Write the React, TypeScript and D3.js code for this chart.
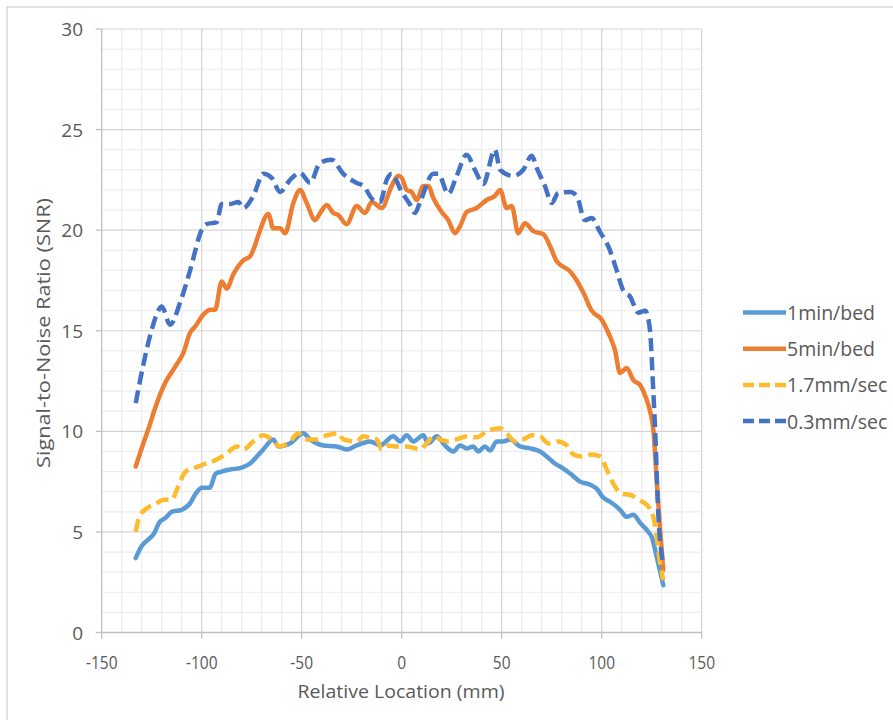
import * as d3 from 'd3';

// [relative location (mm), SNR]
const oneMinBed: [number, number][] = [
  [-133, 3.7], [-130, 4.3], [-127, 4.6], [-124, 4.9], [-121, 5.5], [-118, 5.7], [-115, 6.0], [-110, 6.1],
  [-106, 6.4], [-103, 6.9], [-100, 7.2], [-96, 7.2], [-93, 7.9], [-90, 8.0], [-85.8, 8.1], [-80, 8.2],
  [-75.8, 8.4], [-72, 8.8], [-69.2, 9.1], [-64.2, 9.6], [-61.7, 9.25], [-55.8, 9.4], [-49.2, 9.9],
  [-45.8, 9.6], [-39.2, 9.3], [-32.5, 9.25], [-27.5, 9.1], [-22.5, 9.3], [-15.8, 9.5], [-10.8, 9.3],
  [-4.2, 9.75], [-0.8, 9.5], [2.5, 9.8], [5.8, 9.5], [10.8, 9.8], [13.3, 9.4], [17.5, 9.75], [21.6, 9.3],
  [25.8, 9.0], [29.2, 9.3], [32.5, 9.15], [35.8, 9.25], [38.3, 9.0], [41.6, 9.25], [44.2, 9.05],
  [47.5, 9.5], [50.8, 9.5], [54.2, 9.6], [59.2, 9.25], [64.2, 9.15], [69.2, 9.0], [72.5, 8.75],
  [76.6, 8.4], [80.8, 8.15], [84.2, 7.9], [89.2, 7.5], [94.2, 7.35], [97.5, 7.15], [100.8, 6.7],
  [104.2, 6.5], [109.2, 6.1], [112.5, 5.75], [115.8, 5.85], [119.2, 5.45], [123.3, 5.0], [125, 4.75],
  [127.5, 3.75], [130.8, 2.35],
];

const fiveMinBed: [number, number][] = [
  [-133, 8.25], [-129.2, 9.4], [-126.7, 10.1], [-123.3, 11.15], [-118.3, 12.4], [-113.3, 13.2],
  [-109.2, 13.9], [-105.8, 14.9], [-103.3, 15.2], [-99.2, 15.8], [-95.8, 16.05], [-93.3, 16.05],
  [-90, 17.45], [-87.5, 17.1], [-84.2, 17.8], [-79.2, 18.5], [-75.8, 18.7], [-72.5, 19.5], [-70.8, 20.0],
  [-66.7, 20.8], [-64.2, 20.1], [-60.8, 20.1], [-58.3, 19.85], [-54.2, 21.35], [-50.8, 22.0],
  [-47.5, 21.35], [-43.3, 20.5], [-40.8, 20.85], [-37.5, 21.25], [-34.2, 20.85], [-31.7, 20.75],
  [-27.5, 20.3], [-22.5, 21.2], [-18.3, 20.85], [-15, 21.4], [-10, 21.1], [-5, 22.2], [-1.7, 22.7],
  [0, 22.6], [2.5, 22.0], [5, 21.9], [7.5, 21.5], [10.8, 22.2], [13.3, 22.2], [15.8, 21.6], [20, 20.9],
  [23.3, 20.5], [26.6, 19.85], [29.2, 20.2], [32.5, 20.9], [37.5, 21.1], [42.5, 21.5], [46.6, 21.7],
  [49.2, 22.0], [52.5, 21.1], [55, 21.2], [58.3, 19.85], [61.6, 20.35], [65.8, 19.95], [70.8, 19.8],
  [74.2, 19.2], [77.5, 18.45], [84.2, 17.95], [87.5, 17.5], [90.8, 16.9], [95, 16.0], [100, 15.55],
  [103.3, 14.9], [106.6, 14.05], [109.2, 12.9], [112.5, 13.15], [115.8, 12.55], [119.2, 12.3],
  [122, 11.7], [124.2, 11.0], [125.8, 10.1], [127.5, 7.6], [129.2, 5.1], [130.8, 3.1],
];

const mm17Sec: [number, number][] = [
  [-133, 5.0], [-131, 5.8], [-127, 6.2], [-123, 6.4], [-119, 6.6], [-115, 6.6], [-112, 7.2], [-108, 8.0],
  [-104.2, 8.15], [-99.2, 8.35], [-92.5, 8.6], [-87.5, 8.9], [-82.5, 9.25], [-79.2, 9.1], [-74.2, 9.5],
  [-69.2, 9.8], [-65, 9.6], [-60.8, 9.25], [-55.8, 9.5], [-51.7, 9.9], [-47.5, 9.6], [-42.5, 9.6],
  [-37.5, 9.8], [-31.7, 9.9], [-29.2, 9.6], [-22.5, 9.5], [-19.2, 9.75], [-15.8, 9.65], [-12.5, 9.6],
  [-10, 9.1], [-7.5, 9.3], [-2.5, 9.25], [2.5, 9.25], [9.2, 9.1], [12.5, 9.4], [15.8, 9.75], [19.2, 9.6],
  [23.3, 9.5], [27.5, 9.6], [32.5, 9.75], [37.5, 9.7], [42.5, 10.0], [49.2, 10.15], [52.5, 9.9],
  [56.6, 9.5], [60.8, 9.6], [65, 9.8], [69.2, 9.75], [73.3, 9.4], [78.3, 9.5], [82.5, 9.3], [85.8, 8.85],
  [90, 8.75], [95, 8.85], [99.2, 8.75], [102.5, 8.1], [105.8, 7.4], [110, 6.9], [114.2, 6.85],
  [118.3, 6.6], [122.5, 6.35], [125.8, 5.75], [127.5, 4.75], [129.2, 3.45], [130.8, 2.6],
];

const mm03Sec: [number, number][] = [
  [-133, 11.4], [-129, 13.4], [-125, 15.05], [-121.7, 16.0], [-120, 16.2], [-115.8, 15.3], [-110.8, 16.4],
  [-105.8, 18.0], [-100, 20.0], [-97.5, 20.3], [-92.5, 20.4], [-90, 21.3], [-85.8, 21.3], [-81.7, 21.4],
  [-79.2, 21.1], [-74.2, 21.7], [-69.2, 22.8], [-65, 22.6], [-60.8, 21.9], [-55.8, 22.5], [-50.8, 22.85],
  [-45.8, 22.35], [-40.8, 23.35], [-35, 23.5], [-29.2, 22.8], [-22.5, 22.35], [-19.2, 22.2],
  [-14.2, 21.5], [-10.8, 21.4], [-7.5, 22.5], [-5, 22.8], [0, 21.9], [4, 21.3], [6.6, 20.85], [9.2, 21.4],
  [15.8, 22.8], [18.3, 22.8], [23.3, 21.8], [27.5, 22.7], [32.5, 23.75], [36.6, 23.0], [40.8, 22.3],
  [46.6, 24.0], [49.2, 23.0], [55.8, 22.7], [60.8, 23.0], [65, 23.7], [67.5, 23.1], [71.6, 22.2],
  [75, 21.35], [78.3, 21.85], [84.2, 21.9], [87.5, 21.7], [91.6, 20.5], [95, 20.6], [99.2, 19.9],
  [103.3, 19.2], [107.5, 18.0], [110.8, 17.0], [114.2, 16.7], [118.3, 15.9], [121.7, 16.0],
  [123.3, 15.6], [124.5, 14.6], [125.5, 12.6], [126.7, 10.1], [128.3, 5.9], [130.8, 3.4],
];

const seriesNames = ['1min/bed', '5min/bed', '1.7mm/sec', '0.3mm/sec'];
const seriesData = [oneMinBed, fiveMinBed, mm17Sec, mm03Sec];
const seriesColors = ['#5B9BD5', '#ED7D31', '#FDBB2D', '#4472C4'];
const seriesDashed = [false, false, true, true];

const xTicks = [-150, -100, -50, 0, 50, 100, 150];
const yTicks = [0, 5, 10, 15, 20, 25, 30];

const W = 893;
const H = 720;
const textColor = '#595959';
const font = '"Open Sans", "DejaVu Sans", sans-serif';

export default function App() {
  const x = d3.scaleLinear().domain([-150, 150]).range([101.7, 701.7]);
  const y = d3.scaleLinear().domain([0, 30]).range([632.5, 29]);

  const line = d3.line<[number, number]>()
    .x((d) => x(d[0]))
    .y((d) => y(d[1]))
    .curve(d3.curveMonotoneX);

  const minorX = d3.range(-140, 151, 10).filter((v) => v % 50 !== 0);
  const minorY = d3.range(1, 30, 1).filter((v) => v % 5 !== 0);

  const [x0, x1] = x.range();
  const [y0, y1] = y.range();

  return (
    <div style={{ position: 'absolute', left: 0, top: 0 }}>
      <svg width={W} height={H} style={{ display: 'block', background: '#fff' }}>
        {/* outer chart border */}
        <rect x={7} y={7} width={W + 10} height={H + 10} fill="#fff" stroke="#d9d9d9" strokeWidth={1.5} />

        {/* minor grid */}
        <g stroke="#ededed" strokeWidth={1.2}>
          {minorX.map((v) => (
            <line key={`mx${v}`} x1={x(v)} x2={x(v)} y1={y1} y2={y0} />
          ))}
          {minorY.map((v) => (
            <line key={`my${v}`} x1={x0} x2={x1} y1={y(v)} y2={y(v)} />
          ))}
        </g>

        {/* major grid */}
        <g stroke="#d4d4d4" strokeWidth={1.2}>
          {xTicks.filter((v) => v !== -150).map((v) => (
            <line key={`gx${v}`} x1={x(v)} x2={x(v)} y1={y1} y2={y0} />
          ))}
          {yTicks.filter((v) => v !== 0).map((v) => (
            <line key={`gy${v}`} x1={x0} x2={x1} y1={y(v)} y2={y(v)} />
          ))}
        </g>

        {/* axes */}
        <g stroke="#bfbfbf" strokeWidth={1.3}>
          <line x1={x0} x2={x0} y1={y1} y2={y0} />
          <line x1={x0} x2={x1} y1={y0} y2={y0} />
          {yTicks.map((v) => (
            <line key={`ty${v}`} x1={x0 - 6} x2={x0} y1={y(v)} y2={y(v)} />
          ))}
          {xTicks.map((v) => (
            <line key={`tx${v}`} x1={x(v)} x2={x(v)} y1={y0} y2={y0 + 6} />
          ))}
        </g>

        {/* tick labels */}
        <g fill={textColor} fontFamily={font}>
          {yTicks.map((v) => (
            <text key={`ly${v}`} x={83} y={y(v)} textAnchor="end" dominantBaseline="central" fontSize={19}>
              {v}
            </text>
          ))}
          {xTicks.map((v) => (
            <text
              key={`lx${v}`}
              transform={`translate(${x(v)}, 662) scale(0.84, 1)`}
              textAnchor="middle"
              dominantBaseline="central"
              fontSize={18.5}
            >
              {v}
            </text>
          ))}
        </g>

        {/* axis titles */}
        <text
          x={401}
          y={691}
          textAnchor="middle"
          dominantBaseline="central"
          fill={textColor}
          fontFamily={font}
          fontSize={18}
          textLength={207}
          lengthAdjust="spacingAndGlyphs"
        >
          Relative Location (mm)
        </text>
        <text
          transform="translate(43, 333) rotate(-90)"
          textAnchor="middle"
          dominantBaseline="central"
          fill={textColor}
          fontFamily={font}
          fontSize={18}
          textLength={270}
          lengthAdjust="spacingAndGlyphs"
        >
          Signal-to-Noise Ratio (SNR)
        </text>

        {/* series */}
        <g fill="none">
          {seriesData.map((d, i) => (
            <path
              key={seriesNames[i]}
              d={line(d) ?? ''}
              stroke={seriesColors[i]}
              strokeWidth={4.5}
              strokeLinejoin="round"
              strokeLinecap={seriesDashed[i] ? 'butt' : 'round'}
              strokeDasharray={seriesDashed[i] ? '13 6' : undefined}
            />
          ))}
        </g>

        {/* legend */}
        <g fontFamily={font} fontSize={19.5} fill={textColor}>
          {seriesNames.map((name, i) => {
            const ly = 312.5 + i * 36.2;
            return (
              <g key={`leg${name}`}>
                <line
                  x1={743}
                  x2={786}
                  y1={ly}
                  y2={ly}
                  stroke={seriesColors[i]}
                  strokeWidth={4.5}
                  strokeDasharray={seriesDashed[i] ? '11 5' : undefined}
                />
                <text x={787} y={ly} dominantBaseline="central">
                  {name}
                </text>
              </g>
            );
          })}
        </g>
      </svg>
    </div>
  );
}
